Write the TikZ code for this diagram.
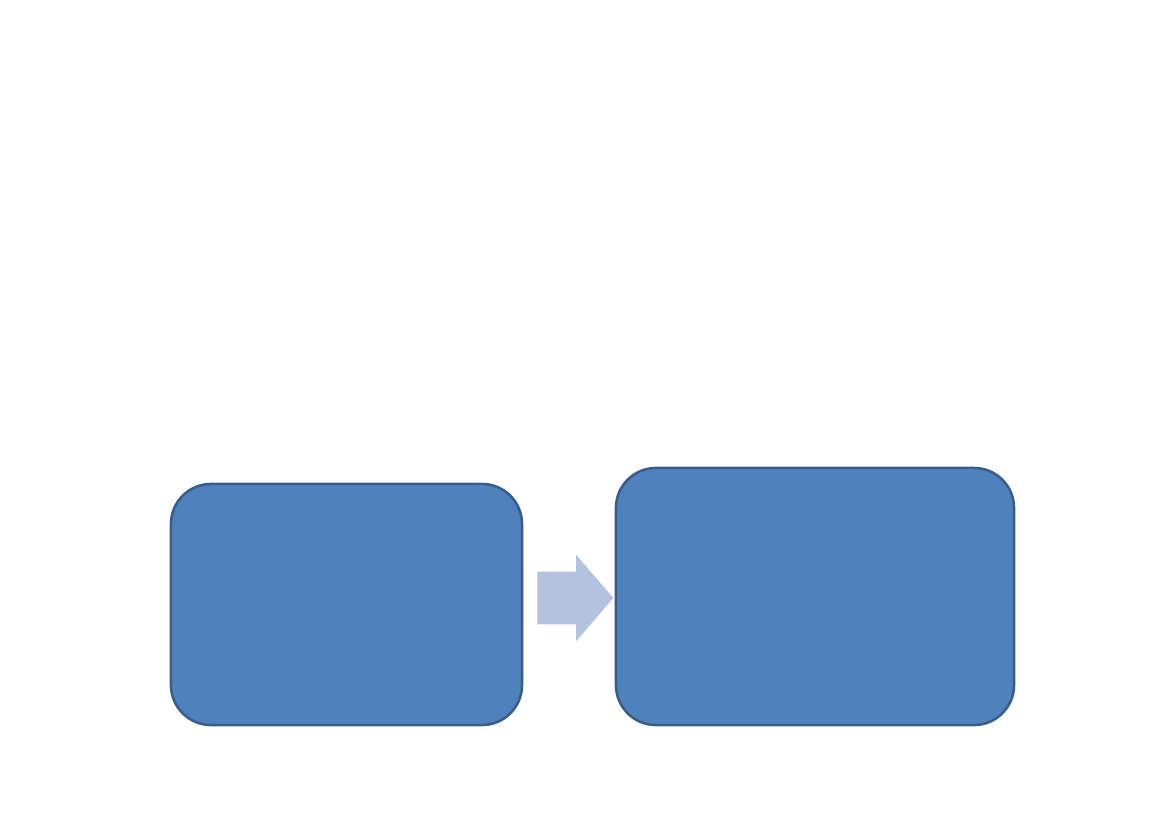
\documentclass[tikz,border=0pt]{standalone}
\definecolor{stepFill}{RGB}{79,129,189}
\definecolor{stepLine}{RGB}{56,93,138}
\definecolor{arrowFill}{RGB}{179,194,222}
\usepackage{tikz}
\usetikzlibrary{shapes.arrows,positioning,calc}
\begin{document}
\begin{tikzpicture}[
    x=0.025cm, y=-0.025cm,
    stepbox/.style={rectangle, rounded corners=1cm, draw=stepLine,
                    fill=stepFill, line width=1.8pt, inner sep=0pt},
    blockarrow/.style={single arrow, fill=arrowFill, draw=none,
                       inner xsep=0pt, inner ysep=0.65cm,
                       single arrow head extend=0.425cm,
                       single arrow tip angle=98.6,
                       minimum height=1.9cm}
  ]
  \useasboundingbox (0,0) rectangle (1169,827);
  \node[stepbox, minimum width=8.775cm, minimum height=6.025cm]
    (first) at (346.5,604.5) {};
  \node[stepbox, minimum width=9.95cm, minimum height=6.425cm]
    (second) at (815,596.5) {};
  \node[blockarrow] (link) at (564,598) {};
\end{tikzpicture}
\end{document}
